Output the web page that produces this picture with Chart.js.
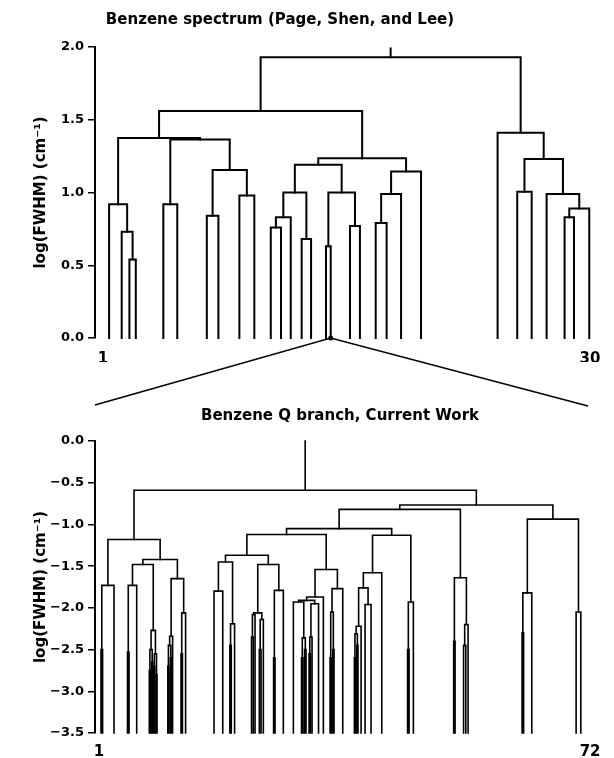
<!DOCTYPE html>
<html><head><meta charset="utf-8">
<script src="https://cdn.jsdelivr.net/npm/chart.js@4/dist/chart.umd.min.js"></script>
<style>
html,body{margin:0;padding:0;background:#fff;width:614px;height:758px;overflow:hidden;position:relative}
#wTop{position:absolute;left:-50px;top:0;width:660px;height:412px}
#wBot{position:absolute;left:0;top:396px;width:680px;height:362px}
</style></head><body>
<div id="wTop"><canvas id="cTop"></canvas></div>
<div id="wBot"><canvas id="cBot"></canvas></div>
<script>
// ---------- DATA ----------
const topTitle = 'Benzene spectrum (Page, Shen, and Lee)';
const botTitle = 'Benzene Q branch, Current Work';
const yTitle = 'log(FWHM) (cm⁻¹)';

// top dendrogram: 30 leaf positions (axis units, 1..30)
const topLeafPos = [1.36, 2.11, 2.57, 2.95, 4.59, 5.42, 7.18, 7.87, 9.12, 10.01,
  10.99, 11.60, 12.18, 12.83, 13.39, 14.28, 14.56, 15.71, 16.30, 17.24,
  17.89, 18.75, 19.94, 24.50, 25.67, 26.53, 27.42, 28.49, 29.05, 29.96];
// linkage: [child a, child b, merge height]; leaves 0..29, merge k -> 30+k
const topMerges = [
  [2, 3, 0.54], [1, 30, 0.73], [0, 31, 0.92], [4, 5, 0.92], [6, 7, 0.84],
  [8, 9, 0.98], [34, 35, 1.155], [33, 36, 1.365], [32, 37, 1.375], [10, 11, 0.76],
  [39, 12, 0.83], [13, 14, 0.68], [40, 41, 1.0], [15, 16, 0.63], [17, 18, 0.77],
  [43, 44, 1.0], [42, 45, 1.19], [19, 20, 0.79], [47, 21, 0.99], [48, 22, 1.145],
  [46, 49, 1.235], [38, 50, 1.56], [27, 28, 0.83], [52, 29, 0.89], [26, 53, 0.99],
  [24, 25, 1.005], [55, 54, 1.23], [23, 56, 1.41], [51, 57, 1.93]];
const topRootTop = 1.99;
const topYTicks = [0, 0.5, 1.0, 1.5, 2.0];
const topXTicks = [1, 30];
const topXLabels = ['1', '30'];
const qBranchPos = 14.56;

// bottom dendrogram: 72 leaf positions (axis units, 1..72)
const botLeafPos = [1.29, 1.52, 3.17, 5.12, 5.34, 6.45, 8.27, 8.45, 8.61, 8.77,
  8.92, 9.08, 9.24, 9.39, 10.95, 11.12, 11.30, 11.47, 11.64, 12.86,
  13.06, 13.52, 17.63, 18.89, 19.92, 20.12, 20.60, 23.05, 23.31, 23.56,
  24.18, 24.43, 24.76, 26.24, 26.45, 27.65, 29.10, 30.28, 30.50, 30.72,
  30.93, 31.37, 31.59, 31.80, 32.74, 33.44, 34.41, 34.59, 34.78, 34.98,
  36.24, 37.92, 38.09, 38.27, 38.44, 38.89, 39.47, 40.33, 41.88, 45.61,
  45.83, 46.45, 52.28, 52.48, 53.71, 54.03, 54.36, 62.17, 62.39, 63.57,
  69.98, 70.66];
// linkage: leaves 0..71, merge k -> 72+k
const botMerges = [
  [0, 1, -2.5], [72, 2, -1.73], [3, 4, -2.53], [74, 5, -1.73], [6, 7, -2.75],
  [8, 9, -2.65], [76, 77, -2.5], [10, 11, -2.7], [12, 13, -2.8], [79, 80, -2.55],
  [78, 81, -2.27], [75, 82, -1.48], [14, 15, -2.7], [16, 17, -2.6], [84, 85, -2.45],
  [86, 18, -2.34], [19, 20, -2.55], [88, 21, -2.06], [87, 89, -1.65], [83, 90, -1.42],
  [73, 91, -1.18], [22, 23, -1.8], [24, 25, -2.45], [94, 26, -2.19], [93, 95, -1.45],
  [27, 28, -2.35], [97, 29, -2.08], [30, 31, -2.5], [99, 32, -2.14], [98, 100, -2.06],
  [33, 34, -2.6], [102, 35, -1.79], [101, 103, -1.48], [96, 104, -1.37], [37, 38, -2.6],
  [39, 40, -2.5], [106, 107, -2.36], [36, 108, -1.93], [41, 42, -2.55], [110, 43, -2.35],
  [111, 44, -1.95], [109, 112, -1.91], [113, 45, -1.87], [46, 47, -2.6], [48, 49, -2.5],
  [115, 116, -2.05], [117, 50, -1.77], [114, 118, -1.54], [105, 119, -1.12], [51, 52, -2.6],
  [53, 54, -2.45], [121, 122, -2.31], [123, 55, -2.22], [56, 57, -1.96], [124, 125, -1.76],
  [126, 58, -1.58], [59, 60, -2.5], [128, 61, -1.93], [127, 129, -1.13], [120, 130, -1.05],
  [62, 63, -2.4], [64, 65, -2.45], [133, 66, -2.2], [132, 134, -1.64], [131, 135, -0.82],
  [67, 68, -2.3], [137, 69, -1.82], [70, 71, -2.05], [138, 139, -0.936], [136, 140, -0.768],
  [92, 141, -0.59]];
const botRootTop = 0.0;
const botYTicks = [0, -0.5, -1.0, -1.5, -2.0, -2.5, -3.0, -3.5];
const botXTicks = [1, 72];
const botXLabels = ['1', '72'];

// ---------- BUILD ----------
function buildLinks(leafPos, merges, base, rootTop) {
  const nx = leafPos.slice(), nh = leafPos.map(() => base);
  const links = [];
  merges.forEach(([a, b, h]) => {
    links.push([{x: nx[a], y: nh[a]}, {x: nx[a], y: h}, {x: nx[b], y: h}, {x: nx[b], y: nh[b]}]);
    nx.push((nx[a] + nx[b]) / 2); nh.push(h);
  });
  const r = nx.length - 1;
  links.push([{x: nx[r], y: nh[r]}, {x: nx[r], y: rootTop}]);
  return links;
}
const FONT = 'DejaVu Sans';
const fmt = v => (Math.abs(v) < 1e-9 ? 0 : v).toFixed(1).replace('-', '\u2212');

function makeChart(id, o) {
  const links = buildLinks(o.leafPos, o.merges, o.base, o.rootTop);
  return new Chart(document.getElementById(id), {
    type: 'line',
    data: { datasets: links.map(pts => ({
      data: pts, xAxisID: 'x', yAxisID: 'y', borderColor: '#000', borderWidth: o.lw, pointRadius: 0,
      fill: false, tension: 0, clip: false, borderCapStyle: 'square', borderJoinStyle: 'miter'
    })) },
    options: {
      responsive: true, maintainAspectRatio: false, animation: false, events: [],
      layout: { padding: { top: 0, left: 0, right: 0, bottom: o.padBottom } },
      plugins: {
        legend: { display: false }, tooltip: { enabled: false },
        title: { display: true, text: o.title, color: '#000',
          font: { family: FONT, size: 15, weight: 'bold' },
          padding: { top: o.titleTop, bottom: o.titleBottom } }
      },
      scales: {
        x: { type: 'linear', min: o.xMin, max: o.xMax,
          border: { display: false }, grid: { display: false },
          afterFit: s => { s.height = o.xHeight; },
          afterBuildTicks: s => { s.ticks = o.xTicks.map(v => ({ value: v })); },
          ticks: { autoSkip: false, maxRotation: 0, padding: o.xPad, color: '#000',
            font: { family: FONT, size: 15, weight: 'bold' },
            callback: (v, i) => o.xLabels[i] } },
        y: { type: 'linear', position: 'left', min: o.yMin, max: o.yMax,
          afterFit: s => { s.width = o.yWidth; },
          afterBuildTicks: s => { s.ticks = o.yTicks.map(v => ({ value: v })); },
          ticks: { padding: 4, color: '#000', font: { family: FONT, size: 13, weight: 'bold' },
            callback: v => fmt(v) },
          grid: { display: true, drawOnChartArea: false, drawTicks: true, tickLength: 7,
            color: '#000', lineWidth: 1.5 },
          border: { display: true, color: '#000', width: 2 },
          title: { display: true, text: yTitle, color: '#000',
            font: { family: FONT, size: 15, weight: 'bold' },
            padding: { top: o.yTitlePad, bottom: 0 } } },
        // empty right-hand spacer so the plot ends where the reference does
        yR: { type: 'linear', position: 'right', display: true, min: o.yMin, max: o.yMax,
          grid: { display: false, drawTicks: false }, border: { display: false },
          ticks: { display: false }, afterFit: s => { s.width = o.rightGap; } }
      }
    },
    plugins: o.plugins || []
  });
}

const zoomLinkPlugin = {
  id: 'zoomLink',
  afterDatasetsDraw(chart) {
    const { ctx, chartArea, scales } = chart;
    const px = scales.x.getPixelForValue(qBranchPos), py = scales.y.getPixelForValue(0);
    const yEnd = chart.height - 6;
    ctx.save();
    ctx.strokeStyle = '#000'; ctx.lineWidth = 1.6;
    ctx.beginPath();
    ctx.moveTo(chartArea.left, yEnd - 1); ctx.lineTo(px, py); ctx.lineTo(chartArea.right - 12, yEnd);
    ctx.stroke();
    ctx.beginPath(); ctx.arc(px, py, 2.5, 0, 2 * Math.PI); ctx.fillStyle = '#000'; ctx.fill();
    ctx.restore();
  }
};

makeChart('cTop', {
  title: topTitle, leafPos: topLeafPos, merges: topMerges, base: 0, rootTop: topRootTop,
  lw: 2, xMin: 0.52, xMax: 30.6, yMin: 0, yMax: 2, yTicks: topYTicks,
  xTicks: topXTicks, xLabels: topXLabels, rightGap: 10, padBottom: 50, xHeight: 24, xPad: 4,
  yWidth: 145, yTitlePad: 82, titleTop: 11, titleBottom: 18, plugins: [zoomLinkPlugin]
});
makeChart('cBot', {
  title: botTitle, leafPos: botLeafPos, merges: botMerges, base: -3.5, rootTop: botRootTop,
  lw: 1.6, xMin: 0.42, xMax: 73.0, yMin: -3.5, yMax: 0, yTicks: botYTicks,
  xTicks: botXTicks, xLabels: botXLabels, rightGap: 83, padBottom: 0, xHeight: 25, xPad: 2,
  yWidth: 95, yTitlePad: 32, titleTop: 11, titleBottom: 16
});
</script>
</body></html>
